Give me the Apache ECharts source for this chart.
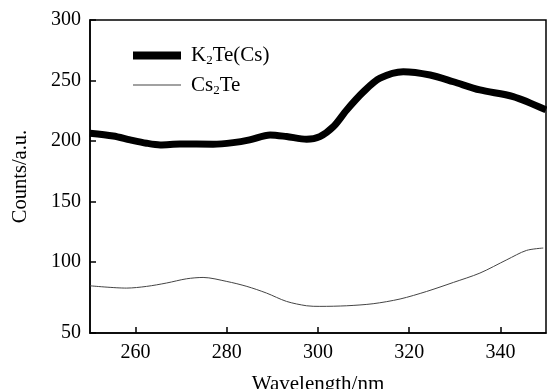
<!DOCTYPE html>
<html>
<head>
<meta charset="utf-8">
<script src="https://cdn.jsdelivr.net/npm/echarts@6/dist/echarts.min.js"></script>
<style>html,body{margin:0;padding:0;background:#fff;}#c{width:547px;height:389px;}</style>
</head>
<body>
<div id="c"></div>
<script>
// K2Te(Cs): [wavelength nm, counts]
var k2teCs = [
  [250, 206.5], [255.1, 204.2], [258.8, 201], [262.4, 198.2], [265.4, 196.8],
  [269.7, 197.6], [277, 197.4], [281.4, 198.7], [285, 201], [289.5, 205],
  [293.1, 203.7], [297.5, 201.5], [300.4, 203.7], [303.4, 212], [306.3, 225.7],
  [310, 240.8], [313.6, 251.9], [318.7, 257.3], [324.6, 254.6], [329.7, 249],
  [335.5, 242.2], [342.8, 236.7], [350, 225.7]
];
// Cs2Te
var cs2te = [
  [250, 80.4], [258, 78.5], [262.4, 79.9], [266.8, 82.7], [271.2, 86.2],
  [274.8, 87.3], [280, 84], [284.4, 79.9], [288.7, 74.4], [293.1, 67.5],
  [297.5, 63.9], [300.4, 63.4], [306.3, 63.9], [312.1, 65.6], [318, 69.5],
  [323.8, 75.7], [329.7, 83.2], [335.5, 90.9], [341.4, 101.9], [345.7, 109.6],
  [349.4, 111.6]
];
var xTicks = [260, 280, 300, 320, 340];
var yTickValues = [41.4, 100, 150, 200, 250, 300];
var yTickLabels = ['50', '100', '150', '200', '250', '300'];
var seriesNames = ['K2Te(Cs)', 'Cs2Te'];

var FONT = '"Liberation Serif", "Times New Roman", serif';
var chart = echarts.init(document.getElementById('c'));
chart.setOption({
  animation: false,
  backgroundColor: '#fff',
  grid: { left: 90, right: 1, top: 20, bottom: 56, show: true, borderColor: '#000', borderWidth: 1.5,
          outerBoundsMode: 'none', containLabel: false },
  legend: {
    orient: 'vertical', left: 133, top: 45, padding: 0, itemWidth: 48, itemHeight: 20, itemGap: 7,
    symbolKeepAspect: true,
    data: [
      { name: seriesNames[0], icon: 'path://M0,0H48V8H0Z' },
      { name: seriesNames[1], icon: 'path://M0,0H48V1H0Z' }
    ],
    formatter: function (n) {
      if (n === 'K2Te(Cs)') return '{n|K}{s|2}{n|Te(Cs)}';
      return '{n|Cs}{s|2}{n|Te}';
    },
    textStyle: {
      fontFamily: FONT, fontSize: 21, color: '#000', padding: [0, 0, 0, 5],
      rich: {
        n: { fontFamily: FONT, fontSize: 21, color: '#000' },
        s: { fontFamily: FONT, fontSize: 13, color: '#000', padding: [11, 0, 0, 0] }
      }
    }
  },
  xAxis: {
    type: 'value', min: 250, max: 350, interval: 20,
    name: 'Wavelength/nm', nameLocation: 'middle', nameGap: 41,
    nameTextStyle: { fontFamily: FONT, fontSize: 21, color: '#000' },
    axisLine: { lineStyle: { color: '#000', width: 1.5 } },
    axisTick: { inside: true, length: 6, lineStyle: { color: '#000', width: 1.5 }, customValues: xTicks },
    axisLabel: { customValues: xTicks, fontFamily: FONT, fontSize: 20, color: '#000', margin: 10 },
    splitLine: { show: false }
  },
  yAxis: {
    type: 'value', min: yTickValues[0], max: 300,
    name: 'Counts/a.u.', nameLocation: 'middle', nameGap: 59,
    nameTextStyle: { fontFamily: FONT, fontSize: 20.5, color: '#000' },
    axisLine: { show: true, lineStyle: { color: '#000', width: 1.5 } },
    axisTick: { show: true, inside: true, length: 6, lineStyle: { color: '#000', width: 1.5 }, customValues: yTickValues },
    axisLabel: {
      customValues: yTickValues, fontFamily: FONT, fontSize: 20, color: '#000', margin: 9,
      formatter: function (v) {
        for (var i = 0; i < yTickValues.length; i++) if (Math.abs(v - yTickValues[i]) < 1e-6) return yTickLabels[i];
        return '';
      }
    },
    splitLine: { show: false }
  },
  series: [
    { name: seriesNames[0], type: 'line', data: k2teCs, symbol: 'none', smooth: 0.3,
      lineStyle: { color: '#000', width: 7 }, itemStyle: { color: '#000', borderWidth: 0 } },
    { name: seriesNames[1], type: 'line', data: cs2te, symbol: 'none', smooth: 0.3,
      lineStyle: { color: '#444', width: 1 }, itemStyle: { color: '#444', borderWidth: 0 } }
  ]
});
</script>
</body>
</html>
